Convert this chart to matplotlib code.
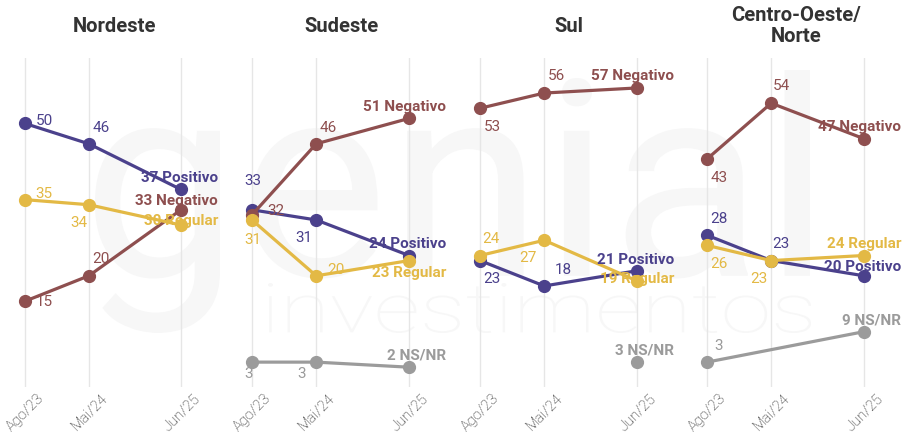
import numpy as np
import pandas as pd
import matplotlib
matplotlib.use('Agg')
import matplotlib.pyplot as plt
from matplotlib.textpath import TextPath
from matplotlib.patches import PathPatch
from matplotlib.font_manager import FontProperties
from matplotlib.transforms import Affine2D

plt.rcParams['font.family'] = ['Roboto', 'DejaVu Sans']

# --- data ---
periods = ['Ago/23', 'Mai/24', 'Jun/25']
period_dates = pd.to_datetime(['2023-08-01', '2024-05-01', '2025-06-01'])
months = ((period_dates.year - 2023) * 12 + period_dates.month - 8).to_numpy()

regions = ['Nordeste', 'Sudeste', 'Sul', 'Centro-Oeste/\nNorte']
series_names = ['Positivo', 'Negativo', 'Regular', 'NS/NR']

positivo = [[50, 46, 37], [33, 31, 24], [23, 18, 21], [28, 23, 20]]
negativo = [[15, 20, 33], [32, 46, 51], [53, 56, 57], [43, 54, 47]]
regular = [[35, 34, 30], [31, 20, 23], [24, 27, 19], [26, 23, 24]]
nsnr = [[None, None, None], [3, 3, 2], [None, None, 3], [3, None, 9]]

values = {'Positivo': positivo, 'Negativo': negativo, 'Regular': regular, 'NS/NR': nsnr}

# --- styling ---
colors = {'Positivo': '#4b418c', 'Negativo': '#8e4f4f',
          'Regular': '#e3b945', 'NS/NR': '#9b9b9b'}
zorders = {'Positivo': 3, 'Negativo': 4, 'Regular': 5, 'NS/NR': 6}

# label offsets in pixels (dx right, dy down) for the first two points
value_offsets = {
    'Positivo': [[(19, -2), (12, -16)], [(1, -29), (-12, 18)], [(12, 18), (19, -16)], [(12, -16), (10, -17)]],
    'Negativo': [[(19, 1), (12, -17)], [(24, -4), (12, -16)], [(12, 19), (12, -17)], [(12, 19), (10, -17)]],
    'Regular': [[(19, -6), (-10, 18)], [(1, 20), (20, -6)], [(11, -17), (-16, 18)], [(12, 19), (-12, 18)]],
    'NS/NR': [[None, None], [(-3, 12), (-15, 12)], [None, None], [(12, -16), None]],
}
# vertical offsets of the end labels (last point)
end_dy = {
    'Positivo': [-11, -12, -11, -9],
    'Negativo': [-9, -11, -12, -12],
    'Regular': [-4, 12, -2, -12],
    'NS/NR': [None, -12, -12, -11],
}

W, H = 905, 434
ago_px = [25, 252, 480, 707]
jun_px = [181, 409, 637, 864]
y_top, y_bot = 58, 387
xlim = (-3, 27)
ylim = (-1.9, 62.9)

fig = plt.figure(figsize=(W / 100, H / 100), dpi=100)
fig.patch.set_facecolor('white')


def add_watermark(text, box, weight):
    tp = TextPath((0, 0), text, size=100, prop=FontProperties(family='Roboto', weight=weight))
    ext = tp.get_extents()
    x0, y0, x1, y1 = box
    sx = (x1 - x0) / ext.width / W
    sy = (y1 - y0) / ext.height / H
    tr = Affine2D().translate(-ext.x0, -ext.y0).scale(sx, sy).translate(x0 / W, 1 - y1 / H)
    patch = PathPatch(tr.transform_path(tp), facecolor='#f7f7f7', edgecolor='none',
                      transform=fig.transFigure, zorder=-5)
    fig.add_artist(patch)


add_watermark('genial', (95, 70, 810, 333), 'normal')
add_watermark('investimentos', (268, 283, 811, 333), 'light')

for i, region in enumerate(regions):
    k = (jun_px[i] - ago_px[i]) / (months[-1] - months[0])
    left = ago_px[i] + xlim[0] * k
    width = (xlim[1] - xlim[0]) * k
    ax = fig.add_axes([left / W, (H - y_bot) / H, width / W, (y_bot - y_top) / H])
    ax.set_facecolor('none')
    ax.set_xlim(*xlim)
    ax.set_ylim(*ylim)
    for s in ax.spines.values():
        s.set_visible(False)
    ax.set_yticks([])
    ax.set_xticks(months)
    ax.set_xticklabels(periods, rotation=45, ha='center', fontsize=10.5,
                       fontweight='light', color='#222222')
    ax.tick_params(axis='x', length=0, pad=3)
    for m in months:
        ax.axvline(m, color='#e6e6e6', lw=1, zorder=1)

    for name in series_names:
        vals = values[name][i]
        pts = [(months[j], v) for j, v in enumerate(vals) if v is not None]
        if not pts:
            continue
        xs, ys = zip(*pts)
        c = colors[name]
        ax.plot(xs, ys, color=c, lw=2.3, marker='o', ms=8.5, zorder=zorders[name],
                solid_capstyle='round')
        # value labels for first two periods
        for j in range(2):
            v = vals[j]
            off = value_offsets[name][i][j]
            if v is None or off is None:
                continue
            ax.annotate(f'{v}', xy=(months[j], v), xytext=(off[0], -off[1]),
                        textcoords='offset pixels', ha='center', va='center',
                        fontsize=11, color=c, zorder=10)
        # end label
        v = vals[-1]
        if v is not None:
            ax.annotate(f'{v} {name}', xy=(months[-1], v), xytext=(37, -end_dy[name][i]),
                        textcoords='offset pixels', ha='right', va='center',
                        fontsize=11, fontweight='bold', color=c, zorder=10,
                        annotation_clip=False)

    fig.text((ago_px[i] + 89) / W, 1 - 26 / H, region, ha='center', va='center',
             fontsize=14.5, fontweight='bold', color='#333333', linespacing=1.1)

fig.savefig('out.png', dpi=100, facecolor='white')
